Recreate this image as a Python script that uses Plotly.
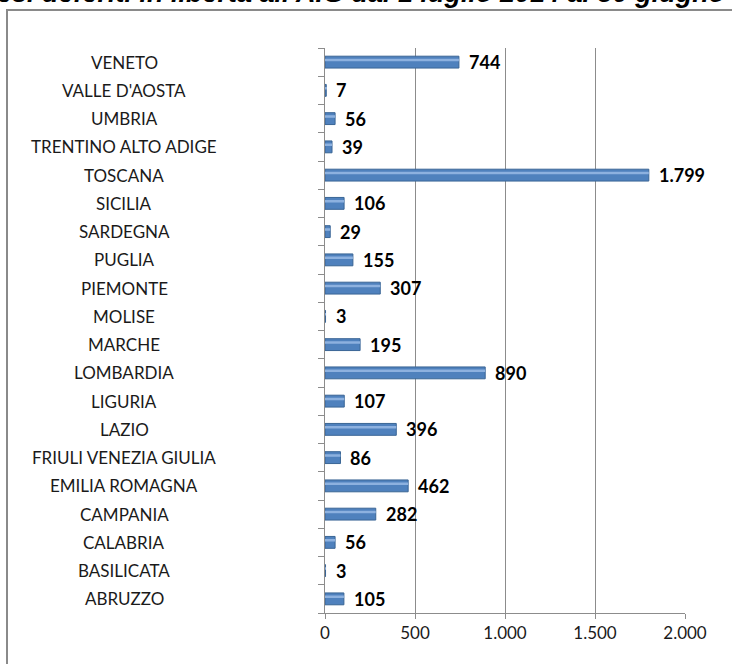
import plotly.graph_objects as go

regions = ["ABRUZZO", "BASILICATA", "CALABRIA", "CAMPANIA", "EMILIA ROMAGNA",
           "FRIULI VENEZIA GIULIA", "LAZIO", "LIGURIA", "LOMBARDIA", "MARCHE",
           "MOLISE", "PIEMONTE", "PUGLIA", "SARDEGNA", "SICILIA", "TOSCANA",
           "TRENTINO ALTO ADIGE", "UMBRIA", "VALLE D'AOSTA", "VENETO"]
values = [105, 3, 56, 282, 462, 86, 396, 107, 890, 195,
          3, 307, 155, 29, 106, 1799, 39, 56, 7, 744]
value_labels = ["105", "3", "56", "282", "462", "86", "396", "107", "890", "195",
                "3", "307", "155", "29", "106", "1.799", "39", "56", "7", "744"]
tick_vals = [0, 500, 1000, 1500, 2000]
tick_text = ["0", "500", "1.000", "1.500", "2.000"]
title_text = "esi deferiti in libertà all'AIG dal 1 luglio 2014 al 30 giugno"

W, H = 732, 664
ML, MR, MT, MB = 325, 47, 48, 51
pw = W - ML - MR
ph = H - MT - MB

def px_x(p):
    return (p - ML) / pw

def px_y(p):
    return (H - MB - p) / ph

fig = go.Figure()
fig.add_trace(go.Bar(
    x=values, y=regions, orientation="h",
    width=0.42,
    marker=dict(color="#4F81BD", line=dict(color="#3A6595", width=1)),
    hoverinfo="x+y",
))
# light reflection band on the upper part of each cylinder-like bar
fig.add_trace(go.Bar(
    x=values, y=regions, orientation="h",
    width=0.09, offset=0.03,
    marker=dict(color="#8DB1DF", line=dict(width=0)),
    hoverinfo="skip",
))

annotations = []
for r, v, lab in zip(regions, values, value_labels):
    annotations.append(dict(x=v, y=r, xref="x", yref="y", text="<b>" + lab + "</b>",
                            showarrow=False, xanchor="left", xshift=8,
                            font=dict(family="Lato", size=18, color="#000000")))
for r in regions:
    annotations.append(dict(x=px_x(124), y=r, xref="paper", yref="y", text=r,
                            showarrow=False, xanchor="center",
                            font=dict(family="Lato", size=17, color="#1a1a1a")))
annotations.append(dict(x=px_x(727), y=px_y(-7), xref="paper", yref="paper",
                        text="<b><i>" + title_text + "</i></b>", showarrow=False,
                        xanchor="right", yanchor="middle",
                        font=dict(family="Liberation Sans", size=27, color="#000000")))

fig.update_layout(
    width=W, height=H,
    margin=dict(l=ML, r=MR, t=MT, b=MB, autoexpand=False),
    paper_bgcolor="white", plot_bgcolor="white",
    showlegend=False,
    barmode="overlay",
    annotations=annotations,
    shapes=[dict(type="rect", xref="paper", yref="paper",
                 x0=px_x(7), x1=px_x(760), y0=px_y(10), y1=px_y(700),
                 line=dict(color="#8a8a8a", width=2), layer="below")],
    xaxis=dict(range=[0, 2000], tickvals=tick_vals, ticktext=tick_text,
               showgrid=True, gridcolor="#8c8c8c", gridwidth=1,
               showline=True, linecolor="#8c8c8c", linewidth=1,
               ticks="outside", ticklen=5, tickcolor="#8c8c8c",
               zeroline=False,
               tickfont=dict(family="Lato", size=17, color="#1a1a1a")),
    yaxis=dict(type="category", categoryorder="array", categoryarray=regions,
               showticklabels=False, showline=True, linecolor="#8c8c8c", linewidth=1,
               ticks="outside", ticklen=6, tickcolor="#8c8c8c", tickson="boundaries",
               showgrid=False, zeroline=False),
)

fig.write_html("out.html", config={"displayModeBar": False},
               post_script="document.body.style.margin='0';document.body.style.overflow='hidden';")
